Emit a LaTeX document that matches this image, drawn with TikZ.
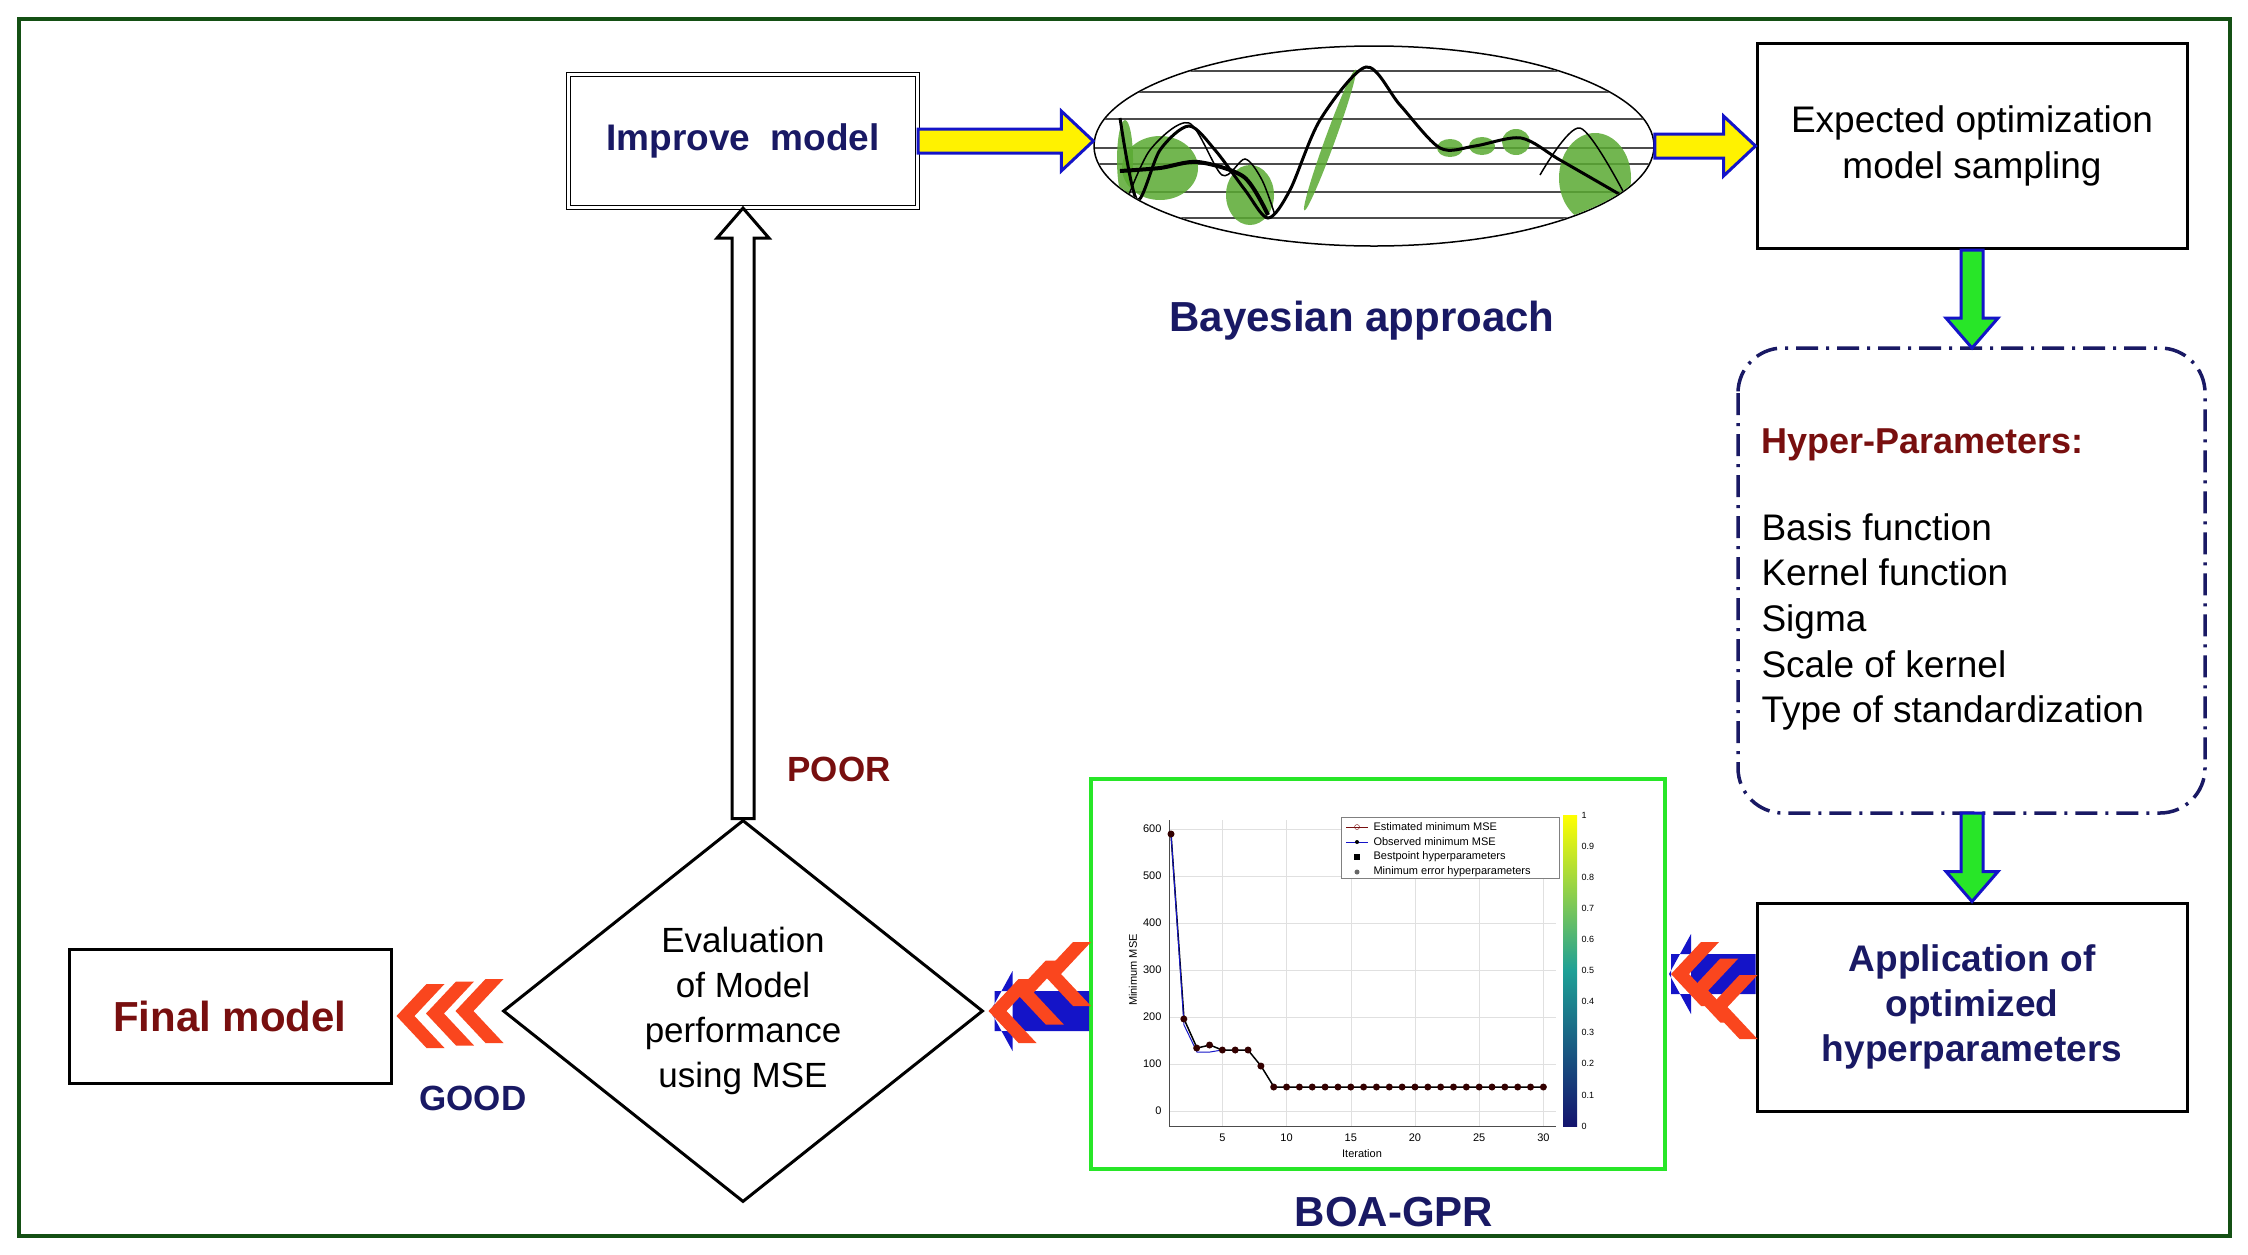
\documentclass[tikz,border=0pt]{standalone}
\usepackage{fontspec}
\setmainfont{Liberation Sans}
\usetikzlibrary{shapes.geometric,calc}
\definecolor{navy}{RGB}{25,25,100}
\definecolor{dred}{RGB}{120,15,15}
\definecolor{fgreen}{RGB}{20,80,20}
\definecolor{chevr}{RGB}{250,70,30}
\definecolor{abl}{RGB}{20,20,200}
\definecolor{lgreen}{RGB}{40,230,40}
\definecolor{gpgreen}{RGB}{90,170,50}
\newcommand\harrowR[3]{% from to style : right-pointing fat arrow
\path[#3] let \p1=(#1), \p2=(#2) in (\x1,\y1+12pt) -- (\x2-32pt,\y1+12pt) -- (\x2-32pt,\y1+30pt) -- (\x2,\y1) -- (\x2-32pt,\y1-30pt) -- (\x2-32pt,\y1-12pt) -- (\x1,\y1-12pt) -- cycle;}
\newcommand\varrow[4]{% from to style headdir(+1 down, -1 up)
\path[#3] let \p1=(#1), \p2=(#2) in (\x1-11pt,\y1) -- (\x1-11pt,\y2+#4*30pt) -- (\x1-26pt,\y2+#4*30pt) -- (\x1,\y2) -- (\x1+26pt,\y2+#4*30pt) -- (\x1+11pt,\y2+#4*30pt) -- (\x1+11pt,\y1) -- cycle;}
\newcommand\chevs[4]{% from to count style: left-pointing chevrons
\foreach \i in {1,...,#3} {
 \fill[#4] ($(#1)!{(\i-1)/(#3-1)}!($(#2)+(-50pt,0)$)+(4pt,0)$) -- ++(30pt,32pt) -- ++(18pt,0) -- ++(-30pt,-32pt) -- ++(30pt,-32pt) -- ++(-18pt,0) -- cycle;}}
\tikzset{
 box/.style={draw=black,line width=3pt,fill=white,inner sep=0pt},
 ttl/.style={font=\fontsize{37}{42}\selectfont\bfseries,text=navy},
 body/.style={font=\fontsize{36}{45}\selectfont,align=center},
 yarr/.style={draw=abl,line width=3pt,fill=yellow},
 garr/.style={draw=abl,line width=3pt,fill=lgreen},
 chv/.style={fill=chevr},
 blob/.style={fill=gpgreen,opacity=0.85},
}
\begin{document}
\begin{tikzpicture}[x=1pt,y=-1pt]
\useasboundingbox (0,0) rectangle (2248,1254);
\fill[white] (0,0) rectangle (2248,1254);
\draw[fgreen,line width=3.5pt] (19,19) rectangle (2230,1236);

% Improve model
\node[draw,double,double distance=3pt,line width=1.2pt,minimum width=349pt,minimum height=133pt,ttl] (imp) at (743,141) {Improve\ \ model};
% Bayesian ellipse
\node[draw,ellipse,line width=1.5pt,minimum width=560pt,minimum height=200pt] (bay) at (1374,146) {};
\begin{scope}
\clip (1374,146) ellipse (279pt and 99pt);
\foreach \yy in {71,92,119,148,164,192,218} \draw[black!70,line width=1.5pt] (1080,\yy) -- (1680,\yy);
\fill[blob] (1160,168) ellipse (38pt and 32pt);
\fill[blob] (1250,195) ellipse (24pt and 30pt);
\fill[blob] (1125,160) ellipse (8pt and 40pt);
\fill[blob,rotate around={-20:(1330,140)}] (1330,140) ellipse (5pt and 75pt);
\fill[blob] (1450,148) ellipse (13pt and 9pt);
\fill[blob] (1482,146) ellipse (13pt and 9pt);
\fill[blob] (1516,142) ellipse (14pt and 13pt);
\fill[blob] (1595,178) ellipse (36pt and 45pt);
\draw[black,line width=3pt] plot[smooth] coordinates {(1120,118) (1137,200) (1160,150) (1189,126) (1215,150) (1245,190) (1268,218) (1290,190) (1320,120) (1366,67) (1400,105) (1440,148) (1475,146) (1521,138) (1560,160) (1619,194)};
\draw[black,line width=1.5pt] plot[smooth] coordinates {(1125,205) (1150,150) (1189,123) (1222,175) (1245,159) (1262,180) (1275,215)};
\draw[black,line width=1.5pt] plot[smooth] coordinates {(1540,175) (1580,128) (1625,195)};
\draw[black,line width=4pt] plot[smooth] coordinates {(1120,171) (1160,168) (1198,162) (1244,177) (1268,215)};
\end{scope}
\node[ttl,font=\fontsize{42}{46}\selectfont\bfseries] (bayl) at (1362,321) {Bayesian approach};
% Expected box
\node[box,minimum width=430pt,minimum height=205pt,body,font=\fontsize{37}{46}\selectfont] (exp) at (1972,146) {Expected optimization\\model sampling};
% Hyperparameters
\draw[navy,line width=3.5pt,dash pattern=on 22pt off 8pt on 3pt off 8pt,rounded corners=45pt] (1738,348) rectangle (2205,813);
\coordinate (hyt) at (1972,348); \coordinate (hyb) at (1972,813);
\node[anchor=west,font=\fontsize{36}{40}\selectfont\bfseries,text=dred] (hyl) at (1758,445) {Hyper-Parameters:};
\node[anchor=north west,font=\fontsize{37}{45.6}\selectfont,align=left] (hyp) at (1758,510) {Basis function\\Kernel function\\Sigma\\Scale of kernel\\Type of standardization};
% Application box
\node[box,minimum width=430pt,minimum height=208pt,ttl,align=center,font=\fontsize{37}{45}\selectfont\bfseries] (app) at (1972,1007) {Application of\\optimized\\hyperparameters};
% BOA plot box
\node[draw=lgreen,line width=4pt,minimum width=574pt,minimum height=390pt,fill=white] (boa) at (1378,974) {};
\node[ttl,font=\fontsize{42}{46}\selectfont\bfseries] (boal) at (1394,1212) {BOA-GPR};
% plot contents
\begin{scope}[font=\fontsize{11}{12}\selectfont]
\foreach \v in {0,100,...,600} {\draw[black!12] (1169,{1111-0.47*\v}) -- (1556,{1111-0.47*\v}); \node[anchor=east] at (1165,{1111-0.47*\v}) {\v};}
\foreach \k in {5,10,...,30} {\draw[black!12] ({1171+12.84*(\k-1)},820) -- ({1171+12.84*(\k-1)},1126); \node[anchor=north] at ({1171+12.84*(\k-1)},1130) {\k};}
\draw[black!70,line width=1pt] (1169,820) -- (1169,1126) -- (1556,1126);
\node[rotate=90] at (1133,970) {Minimum MSE};
\node at (1362,1154) {Iteration};
\draw[black,line width=1.5pt] plot coordinates {(1171,834) (1184,1019) (1197,1048) (1210,1045) (1222,1050) (1235,1050) (1248,1050) (1261,1066) (1274,1087) (1543,1087)};
\draw[abl,line width=1pt] plot coordinates {(1171,834) (1184,1025) (1197,1052) (1210,1052) (1222,1050)};
\foreach \k in {1,...,30} {\pgfmathsetmacro\yv{(\k==1)*834+(\k==2)*1019+(\k==3)*1048+(\k==4)*1045+(\k>4)*(\k<8)*1050+(\k==8)*1066+(\k>8)*1087}
 \fill[black!80!red] ({1171+12.84*(\k-1)},\yv) circle (3.5pt);}
\shade[bottom color={rgb,255:red,20;green,20;blue,110},top color=yellow,middle color={rgb,255:red,30;green,160;blue,150}] (1563,815) rectangle (1577,1126);
\foreach \v/\t in {0/0,1/0.1,2/0.2,3/0.3,4/0.4,5/0.5,6/0.6,7/0.7,8/0.8,9/0.9,10/1} \node[anchor=west,font=\fontsize{9}{9}\selectfont] at (1578,{1126-31.1*\v}) {\t};
\draw[black!50,fill=white] (1341,817) rectangle (1559,878);
\draw[dred,line width=1pt] (1346,827) -- (1368,827); \draw[dred] (1357,827) circle (2.5pt);
\draw[abl,line width=1pt] (1346,842) -- (1368,842); \fill[black] (1357,842) circle (2pt);
\fill[black] (1354,854) rectangle (1360,860);
\fill[black!60] (1357,872) circle (2.5pt);
\node[anchor=west] at (1370,827) {Estimated minimum MSE};
\node[anchor=west] at (1370,842) {Observed minimum MSE};
\node[anchor=west] at (1370,857) {Bestpoint hyperparameters};
\node[anchor=west] at (1370,872) {Minimum error hyperparameters};
\end{scope}
% Diamond
\node[draw,diamond,line width=3pt,minimum width=480pt,minimum height=382pt,inner sep=0pt,body,font=\fontsize{35}{45}\selectfont] (dia) at (743,1011) {Evaluation\\of Model\\performance\\using MSE};
% Final model
\node[box,minimum width=322pt,minimum height=134pt,font=\fontsize{42}{46}\selectfont\bfseries,text=dred] (fin) at (230,1016) {Final model};
\node[font=\fontsize{35}{40}\selectfont\bfseries,text=dred] (poor) at (839,769) {POOR};
\node[font=\fontsize{35}{40}\selectfont\bfseries,text=navy] (good) at (473,1098) {GOOD};

% arrows
\harrowR{imp.east}{bay.west}{yarr}
\harrowR{bay.east}{exp.west}{yarr}
\varrow{exp.south}{hyt}{garr}{1}
\varrow{hyb}{app.north}{garr}{1}
\varrow{dia.north}{imp.south}{draw=black,line width=3pt,fill=white}{-1}
% blue shafts behind chevrons
\path[fill=abl] let \p1=(boa.east), \p2=(app.west) in (\x1+4pt,\y1-20pt) rectangle (\x2,\y1+20pt) (\x1+2pt,\y1) -- (\x1+24pt,\y1-40pt) -- (\x1+24pt,\y1+40pt) -- cycle;
\path[fill=abl] let \p1=(dia.east), \p2=(boa.west) in (\x1+10pt,\y1-20pt) rectangle (\x2,\y1+20pt) (\x1+6pt,\y1) -- (\x1+28pt,\y1-40pt) -- (\x1+28pt,\y1+40pt) -- cycle;
\chevs{boa.east}{app.west}{3}{chv}
\chevs{dia.east}{boa.west}{3}{chv}
\chevs{fin.east}{dia.west}{3}{chv}
\end{tikzpicture}
\end{document}
